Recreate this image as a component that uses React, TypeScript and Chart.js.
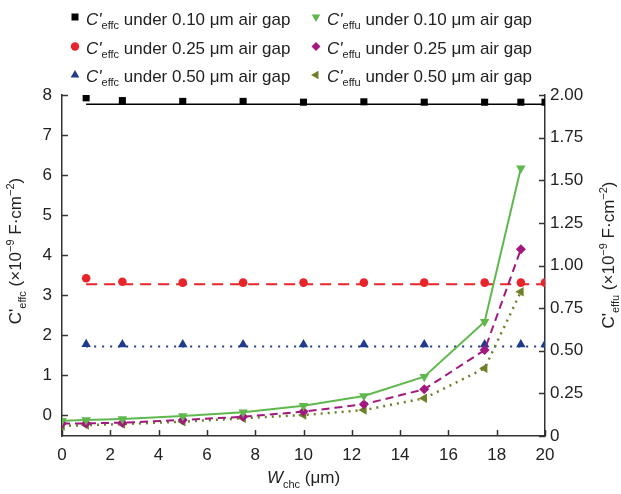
import React, { useEffect, useRef } from 'react';
import { Chart, registerables } from 'chart.js';
Chart.register(...registerables);

// ---- data ----
const xEffc = [1, 2.5, 5, 7.5, 10, 12.5, 15, 17.5, 19, 20];
const effc010 = [7.93, 7.86, 7.84, 7.84, 7.82, 7.83, 7.82, 7.82, 7.82, 7.82];
const effc025 = [3.42, 3.33, 3.31, 3.31, 3.31, 3.31, 3.31, 3.31, 3.31, 3.31];
const effc050 = [1.77, 1.76, 1.76, 1.76, 1.76, 1.76, 1.76, 1.76, 1.76, 1.76];
const fitX = [1, 20];
const fit010 = [7.77, 7.77];
const fit025 = [3.27, 3.27];
const fit050 = [1.71, 1.71];
const xEffu = [0, 1, 2.5, 5, 7.5, 10, 12.5, 15, 17.5, 19];
const effu010 = [0.09, 0.094, 0.1, 0.117, 0.139, 0.178, 0.235, 0.348, 0.67, 1.57];
const effu025 = [0.074, 0.074, 0.078, 0.094, 0.113, 0.143, 0.186, 0.274, 0.504, 1.095];
const effu050 = [0.059, 0.064, 0.07, 0.084, 0.104, 0.123, 0.152, 0.221, 0.397, 0.846];
const xTicks = [0, 2, 4, 6, 8, 10, 12, 14, 16, 18, 20];
const leftTicks = [0, 1, 2, 3, 4, 5, 6, 7, 8];
const rightTicks = [0, 0.25, 0.5, 0.75, 1, 1.25, 1.5, 1.75, 2];
const gapLabels = ['under 0.10 μm air gap', 'under 0.25 μm air gap', 'under 0.50 μm air gap'];

const C_BLACK = '#000000';
const C_RED = '#e8242b';
const C_BLUE = '#1f3c8c';
const C_GREEN = '#5fb84d';
const C_MAG = '#a3187f';
const C_OLIVE = '#6e7f2a';

const FAM = 'Arial, "Liberation Sans", sans-serif';
const TXT = '#222222';

const pts = (xs: number[], ys: number[]) => xs.map((x, i) => ({ x, y: ys[i] }));

type Part = { t: string; font: string; dy?: number };
function drawParts(ctx: CanvasRenderingContext2D, parts: Part[], x: number, y: number, align: 'left' | 'center') {
  let w = 0;
  for (const p of parts) { ctx.font = p.font; w += ctx.measureText(p.t).width; }
  let cx = align === 'center' ? x - w / 2 : x;
  ctx.textAlign = 'left';
  ctx.textBaseline = 'alphabetic';
  for (const p of parts) {
    ctx.font = p.font;
    ctx.fillText(p.t, cx, y + (p.dy || 0));
    cx += ctx.measureText(p.t).width;
  }
}

function drawMarker(ctx: CanvasRenderingContext2D, kind: string, x: number, y: number, color: string) {
  ctx.save();
  ctx.fillStyle = color;
  ctx.beginPath();
  const r = 5;
  const tri = (rot: number) => {
    for (let k = 0; k < 3; k++) {
      const a = rot + (k * 2 * Math.PI) / 3;
      const px = x + Math.sin(a) * r;
      const py = y - Math.cos(a) * r;
      if (k === 0) ctx.moveTo(px, py); else ctx.lineTo(px, py);
    }
    ctx.closePath();
  };
  if (kind === 'rect') ctx.rect(x - 3.5, y - 3.5, 7, 7);
  else if (kind === 'circle') ctx.arc(x, y, 4.2, 0, Math.PI * 2);
  else if (kind === 'up') tri(0);
  else if (kind === 'down') tri(Math.PI);
  else if (kind === 'left') tri(-Math.PI / 2);
  else if (kind === 'diamond') {
    ctx.moveTo(x, y - 4.5); ctx.lineTo(x + 4.5, y); ctx.lineTo(x, y + 4.5); ctx.lineTo(x - 4.5, y); ctx.closePath();
  }
  ctx.fill();
  ctx.restore();
}

const decorPlugin = {
  id: 'decor',
  afterDraw(chart: any) {
    const ctx: CanvasRenderingContext2D = chart.ctx;
    const { left, right, bottom } = chart.chartArea;
    const xs = chart.scales.x;
    const yl = chart.scales.yL;
    const yr = chart.scales.yR;
    ctx.save();
    // inward tick marks
    ctx.strokeStyle = '#333';
    ctx.lineWidth = 1.5;
    ctx.beginPath();
    for (const v of leftTicks) {
      const y = Math.round(yl.getPixelForValue(v)) + 0.5;
      ctx.moveTo(left, y); ctx.lineTo(left + 6, y);
    }
    for (const v of rightTicks) {
      const y = Math.round(yr.getPixelForValue(v)) + 0.5;
      ctx.moveTo(right, y); ctx.lineTo(right - 6, y);
    }
    for (const v of xTicks) {
      const x = Math.round(xs.getPixelForValue(v)) + 0.5;
      ctx.moveTo(x, bottom); ctx.lineTo(x, bottom - 6);
    }
    ctx.stroke();

    ctx.fillStyle = TXT;
    const big = `17px ${FAM}`;
    const bigI = `italic 17px ${FAM}`;
    const small = `11px ${FAM}`;

    // x title
    drawParts(ctx, [
      { t: 'W', font: bigI },
      { t: 'chc', font: small, dy: 5 },
      { t: ' (μm)', font: big },
    ], (left + right) / 2, 483, 'center');

    const yTitle = (sub: string): Part[] => [
      { t: "C'", font: big },
      { t: sub, font: small, dy: 5 },
      { t: ' (×10', font: big },
      { t: '−9', font: small, dy: -7 },
      { t: ' F·cm', font: big },
      { t: '−2', font: small, dy: -7 },
      { t: ')', font: big },
    ];

    // left y title
    ctx.save();
    ctx.translate(21, 251);
    ctx.rotate(-Math.PI / 2);
    drawParts(ctx, yTitle('effc'), 0, 0, 'center');
    ctx.restore();

    // right y title
    ctx.save();
    ctx.translate(614, 255);
    ctx.rotate(-Math.PI / 2);
    drawParts(ctx, yTitle('effu'), 0, 0, 'center');
    ctx.restore();

    // legend
    const rows = [25, 54, 82];
    const mk = [17, 46.5, 75];
    const leftKinds = [['rect', C_BLACK], ['circle', C_RED], ['up', C_BLUE]];
    const rightKinds = [['down', C_GREEN], ['diamond', C_MAG], ['left', C_OLIVE]];
    for (let i = 0; i < 3; i++) {
      drawMarker(ctx, leftKinds[i][0], 75, mk[i], leftKinds[i][1]);
      ctx.fillStyle = TXT;
      drawParts(ctx, [
        { t: "C'", font: bigI },
        { t: 'effc', font: small, dy: 4 },
        { t: ' ' + gapLabels[i], font: big },
      ], 86, rows[i], 'left');
      drawMarker(ctx, rightKinds[i][0], 316, mk[i], rightKinds[i][1]);
      ctx.fillStyle = TXT;
      drawParts(ctx, [
        { t: "C'", font: bigI },
        { t: 'effu', font: small, dy: 4 },
        { t: ' ' + gapLabels[i], font: big },
      ], 327, rows[i], 'left');
    }
    ctx.restore();
  },
};

export default function App() {
  const ref = useRef<HTMLCanvasElement | null>(null);
  useEffect(() => {
    document.body.style.margin = '0';
    const canvas = ref.current!;
    const tickFont = { family: FAM, size: 17 };
    const pointDs = (label: string, xs: number[], ys: number[], color: string, style: string, rot: number, r: number, axis: string) => ({
      label,
      data: pts(xs, ys),
      yAxisID: axis,
      showLine: false,
      pointStyle: style,
      rotation: rot,
      pointRadius: r,
      pointBackgroundColor: color,
      pointBorderColor: color,
      pointBorderWidth: 0,
      clip: 0,
    });
    const lineDs = (label: string, xs: number[], ys: number[], color: string, width: number, dash: number[], axis: string) => ({
      label,
      data: pts(xs, ys),
      yAxisID: axis,
      showLine: true,
      borderColor: color,
      borderWidth: width,
      borderDash: dash,
      pointRadius: 0,
      tension: 0,
      clip: 0,
    });
    const chart = new Chart(canvas, {
      type: 'scatter',
      data: {
        datasets: [
          pointDs('effu010', xEffu, effu010, C_GREEN, 'triangle', 180, 5.5, 'yR'),
          pointDs('effu025', xEffu, effu025, C_MAG, 'rectRot', 0, 5, 'yR'),
          pointDs('effu050', xEffu, effu050, C_OLIVE, 'triangle', -90, 5.5, 'yR'),
          lineDs('effu010 line', xEffu, effu010, C_GREEN, 2, [], 'yR'),
          lineDs('effu025 line', xEffu, effu025, C_MAG, 2, [8, 5], 'yR'),
          lineDs('effu050 line', xEffu, effu050, C_OLIVE, 2.5, [2, 5], 'yR'),
          pointDs('effc010', xEffc, effc010, C_BLACK, 'rect', 0, 5, 'yL'),
          pointDs('effc025', xEffc, effc025, C_RED, 'circle', 0, 4.3, 'yL'),
          pointDs('effc050', xEffc, effc050, C_BLUE, 'triangle', 0, 5.5, 'yL'),
          lineDs('fit010', fitX, fit010, C_BLACK, 1.5, [], 'yL'),
          lineDs('fit025', fitX, fit025, C_RED, 2, [11, 7], 'yL'),
          lineDs('fit050', fitX, fit050, C_BLUE, 2, [2, 6], 'yL'),
        ] as any,
      },
      options: {
        responsive: false,
        animation: false,
        devicePixelRatio: 1,
        layout: { padding: { top: 95, left: 0, right: 0, bottom: 0 } },
        plugins: { legend: { display: false }, tooltip: { enabled: false } },
        scales: {
          x: {
            type: 'linear',
            position: 'bottom',
            min: 0,
            max: 20,
            afterBuildTicks: (a: any) => { a.ticks = xTicks.map((v) => ({ value: v })); },
            ticks: { padding: 9, font: tickFont, color: TXT, maxRotation: 0, autoSkip: false, callback: (v: any) => String(v) },
            grid: { display: false, drawTicks: false },
            border: { display: true, color: '#333', width: 1.5 },
            afterFit: (s: any) => { s.height = 58; },
          },
          yL: {
            type: 'linear',
            position: 'left',
            min: -0.525,
            max: 8,
            afterBuildTicks: (a: any) => { a.ticks = leftTicks.map((v) => ({ value: v })); },
            ticks: { padding: 10, font: tickFont, color: TXT, callback: (v: any) => String(v) },
            grid: { display: false, drawTicks: false },
            border: { display: true, color: '#333', width: 1.5 },
            afterFit: (s: any) => { s.width = 62; },
          },
          yR: {
            type: 'linear',
            position: 'right',
            min: 0,
            max: 2,
            afterBuildTicks: (a: any) => { a.ticks = rightTicks.map((v) => ({ value: v })); },
            ticks: { padding: 5, font: tickFont, color: TXT, callback: (v: any) => (Number(v) === 0 ? '0' : Number(v).toFixed(2)) },
            grid: { display: false, drawTicks: false },
            border: { display: true, color: '#333', width: 1.5 },
            afterFit: (s: any) => { s.width = 76; },
          },
        },
      } as any,
      plugins: [decorPlugin],
    });
    return () => chart.destroy();
  }, []);
  return (
    <div style={{ position: 'absolute', left: 0, top: 0, width: 621, height: 494, background: '#fff' }}>
      <canvas ref={ref} width={621} height={494} style={{ display: 'block' }} />
    </div>
  );
}
